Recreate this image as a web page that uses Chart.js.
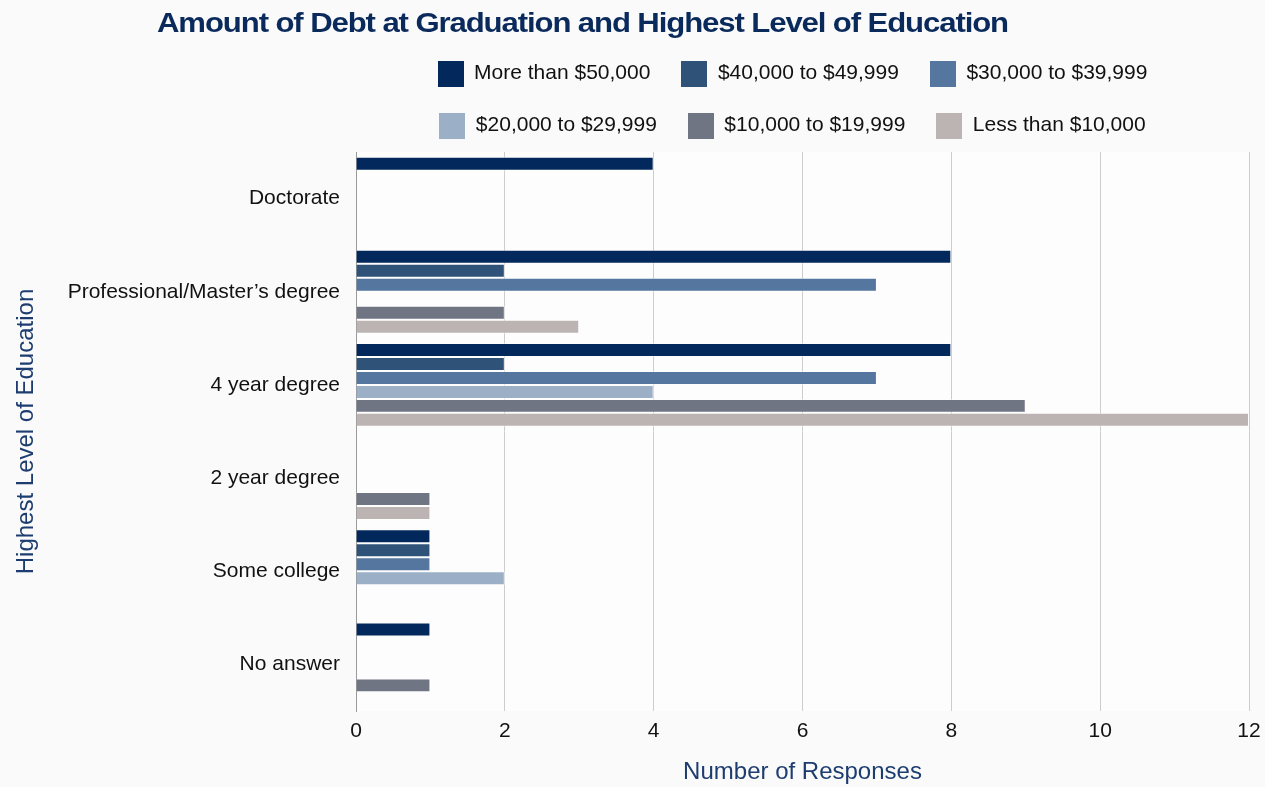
<!DOCTYPE html>
<html><head><meta charset="utf-8">
<script src="https://cdn.jsdelivr.net/npm/chart.js@4.4.0/dist/chart.umd.min.js"></script>
<style>
html,body{margin:0;padding:0;background:#fafafa;}
#wrap{position:relative;width:1265px;height:787px;overflow:hidden;}
#title{position:absolute;left:157px;top:7px;font:bold 28px "Liberation Sans",Arial,sans-serif;color:#0b2a5c;white-space:nowrap;transform-origin:0 0;letter-spacing:-1px;}
canvas{position:absolute;left:0;top:0;}
</style></head><body>
<div id="wrap"><canvas id="c" width="1265" height="787"></canvas><div id="title">Amount of Debt at Graduation and Highest Level of Education</div></div>
<script>
const categories = ["Doctorate", "Professional/Master\u2019s degree", "4 year degree", "2 year degree", "Some college", "No answer"];
const seriesNames = ["More than $50,000", "$40,000 to $49,999", "$30,000 to $39,999", "$20,000 to $29,999", "$10,000 to $19,999", "Less than $10,000"];
const moreThan50k = [4, 8, 8, null, 1, 1];
const from40kTo49k = [null, 2, 2, null, 1, null];
const from30kTo39k = [null, 7, 7, null, 1, null];
const from20kTo29k = [null, null, 4, null, 2, null];
const from10kTo19k = [null, 2, 9, 1, null, 1];
const lessThan10k = [null, 3, 12, 1, null, null];
const xTickValues = [0, 2, 4, 6, 8, 10, 12];
const colors = ["#03285b", "#2f5279", "#55769f", "#9bb0c7", "#707584", "#bcb4b3"];

(function(){
  const t = document.getElementById('title');
  const w = t.getBoundingClientRect().width;
  t.style.transform = 'scaleX(' + (851 / w) + ')';
})();

const seriesData = [moreThan50k, from40kTo49k, from30kTo39k, from20kTo29k, from10kTo19k, lessThan10k];

function swatch(color){
  const cv = document.createElement('canvas');
  cv.width = 26; cv.height = 26;
  const g = cv.getContext('2d');
  g.fillStyle = color; g.fillRect(0, 0, 26, 26);
  return cv;
}
const swatches = colors.map(swatch);

const FONT = '"Liberation Sans", Arial, sans-serif';

const bgPlugin = {
  id: 'bg',
  afterInit(chart){
    const lg = chart.legend;
    if (lg && !lg._patched){
      const orig = lg.fit.bind(lg);
      lg.fit = function(){ orig(); this.height += 6; };
      lg._patched = true;
    }
  },
  afterUpdate(chart){
    const lg = chart.legend;
    if (lg){ lg.left -= 10; lg.right -= 10; }
  },
  beforeDraw(chart){
    const {ctx, chartArea:a} = chart;
    ctx.save();
    ctx.fillStyle = '#fdfdfd';
    ctx.fillRect(a.left, a.top, a.right - a.left, a.bottom - a.top);
    ctx.restore();
  }
};

new Chart(document.getElementById('c'), {
  type: 'bar',
  data: {
    labels: categories,
    datasets: seriesNames.map((name, i) => ({
      label: name,
      data: seriesData[i],
      backgroundColor: colors[i],
      borderColor: 'rgba(255,255,255,0.55)',
      borderWidth: 1,
      categoryPercentage: 0.9,
      barPercentage: 1.0
    }))
  },
  options: {
    indexAxis: 'y',
    responsive: false,
    animation: false,
    devicePixelRatio: 1,
    layout: { padding: { top: 32, right: 16, left: 8, bottom: 0 } },
    plugins: {
      title: { display: false },
      tooltip: { enabled: false },
      legend: {
        position: 'top',
        fullSize: false,
        labels: {
          usePointStyle: true,
          pointStyleWidth: 26,
          boxHeight: 21,
          padding: 31,
          color: '#111',
          font: { family: FONT, size: 21 },
          generateLabels(chart){
            const items = Chart.defaults.plugins.legend.labels.generateLabels(chart);
            items.forEach((it, i) => { it.pointStyle = swatches[i]; });
            return items;
          }
        }
      }
    },
    scales: {
      x: {
        min: 0, max: 12,
        afterBuildTicks(scale){ scale.ticks = xTickValues.map(v => ({ value: v })); },
        afterFit(scale){ scale.height = 76; scale.paddingRight = 0; scale.paddingLeft = 0; },
        ticks: { color: '#111', font: { family: FONT, size: 21 }, padding: 8 },
        grid: { color: '#cdcdcd', lineWidth: 1, drawTicks: false },
        border: { display: false },
        title: { display: true, text: 'Number of Responses', color: '#1d3d70', font: { family: FONT, size: 24 }, padding: { top: 0, bottom: 0 } }
      },
      y: {
        afterFit(scale){ scale.width = 348; },
        ticks: { color: '#111', font: { family: FONT, size: 21 }, padding: 16 },
        grid: { display: false, drawTicks: false },
        border: { display: true, color: '#9a9a9a', width: 1 },
        title: { display: true, text: 'Highest Level of Education', color: '#1d3d70', font: { family: FONT, size: 24 }, padding: { top: 4, bottom: 4 } }
      }
    }
  },
  plugins: [bgPlugin]
});
</script>
</body></html>
